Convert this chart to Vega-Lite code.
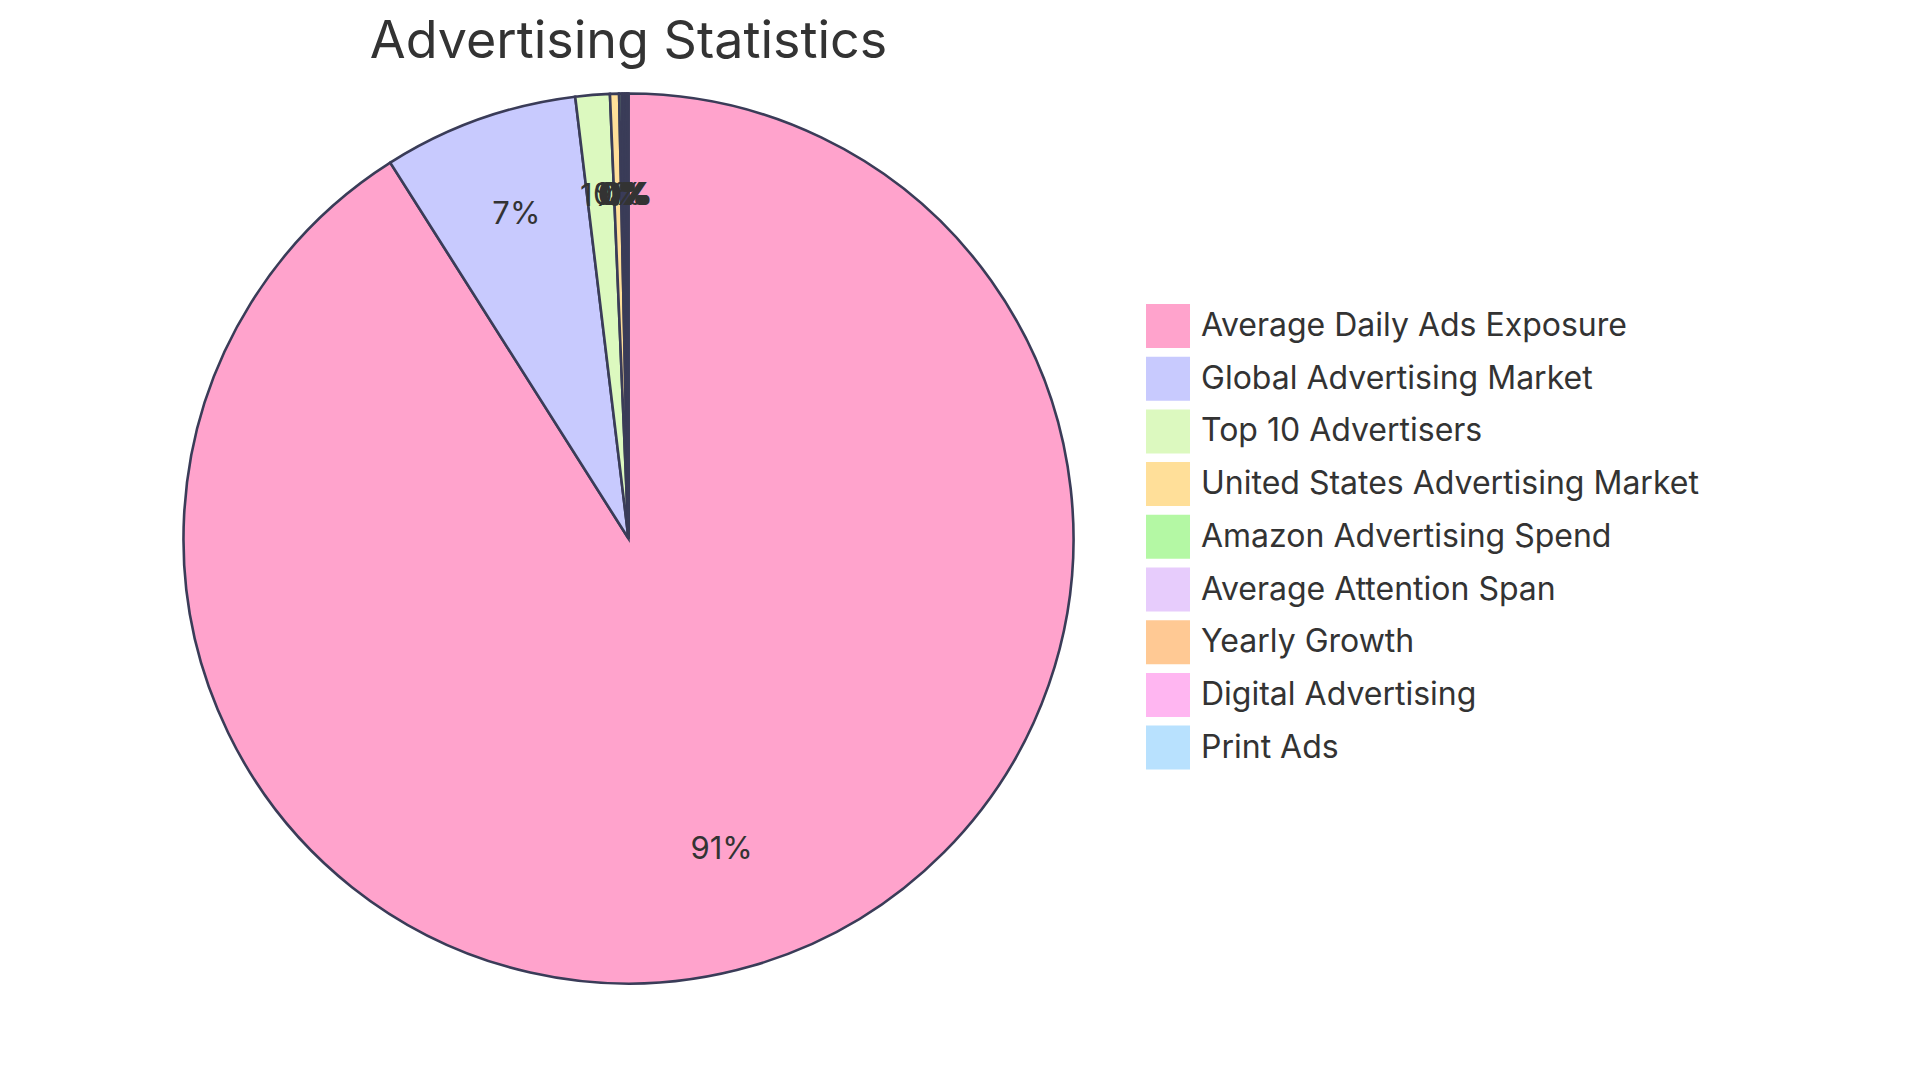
{
  "$schema": "https://vega.github.io/schema/vega-lite/v6.json",
  "width": 1257,
  "height": 937,
  "autosize": {"type": "none"},
  "padding": {"left": 0, "top": 70, "right": 663, "bottom": 73},
  "background": "white",
  "title": {
    "text": "Advertising Statistics",
    "anchor": "middle",
    "orient": "top",
    "offset": -40,
    "baseline": "alphabetic",
    "fontSize": 52,
    "font": "Inter",
    "fontWeight": "normal",
    "color": "#333333"
  },
  "config": {"view": {"stroke": null}},
  "data": {
    "values": [
      {"name": "Average Daily Ads Exposure", "value": 10000},
      {"name": "Global Advertising Market", "value": 778},
      {"name": "Top 10 Advertisers", "value": 137},
      {"name": "United States Advertising Market", "value": 36},
      {"name": "Amazon Advertising Spend", "value": 11},
      {"name": "Average Attention Span", "value": 8},
      {"name": "Yearly Growth", "value": 7},
      {"name": "Digital Advertising", "value": 6},
      {"name": "Print Ads", "value": 5}
    ]
  },
  "transform": [
    {"joinaggregate": [{"op": "sum", "field": "value", "as": "total"}]},
    {"calculate": "format(datum.value / datum.total, '.0%')", "as": "label"}
  ],
  "encoding": {
    "theta": {"field": "value", "type": "quantitative", "stack": true},
    "order": {"field": "value", "type": "quantitative", "sort": "descending"}
  },
  "layer": [
    {
      "mark": {"type": "arc", "outerRadius": 445, "stroke": "#3a3c58", "strokeWidth": 2.6},
      "encoding": {
        "color": {
          "field": "name",
          "type": "nominal",
          "sort": null,
          "scale": {
            "domain": ["Average Daily Ads Exposure", "Global Advertising Market", "Top 10 Advertisers", "United States Advertising Market", "Amazon Advertising Spend", "Average Attention Span", "Yearly Growth", "Digital Advertising", "Print Ads"],
            "range": ["#FFA3CC", "#C8CAFE", "#DCF9BF", "#FFDF99", "#B4F8A4", "#E7CCFC", "#FFC994", "#FFB6F1", "#B8E1FE"]
          },
          "legend": {
            "orient": "none",
            "legendX": 1146,
            "legendY": 234,
            "title": null,
            "padding": 0,
            "symbolType": "square",
            "symbolSize": 1936,
            "symbolStrokeWidth": 0,
            "symbolOpacity": 1,
            "labelFontSize": 32,
            "labelFont": "Inter",
            "labelColor": "#333333",
            "labelOffset": 11,
            "labelLimit": 0,
            "rowPadding": 8.7
          }
        }
      }
    },
    {
      "mark": {"type": "text", "radius": 334, "fontSize": 31, "font": "Inter", "baseline": "alphabetic", "align": "center"},
      "encoding": {
        "detail": {"field": "name", "type": "nominal"},
        "text": {"field": "label", "type": "nominal"},
        "color": {"value": "#333333"}
      }
    }
  ]
}
